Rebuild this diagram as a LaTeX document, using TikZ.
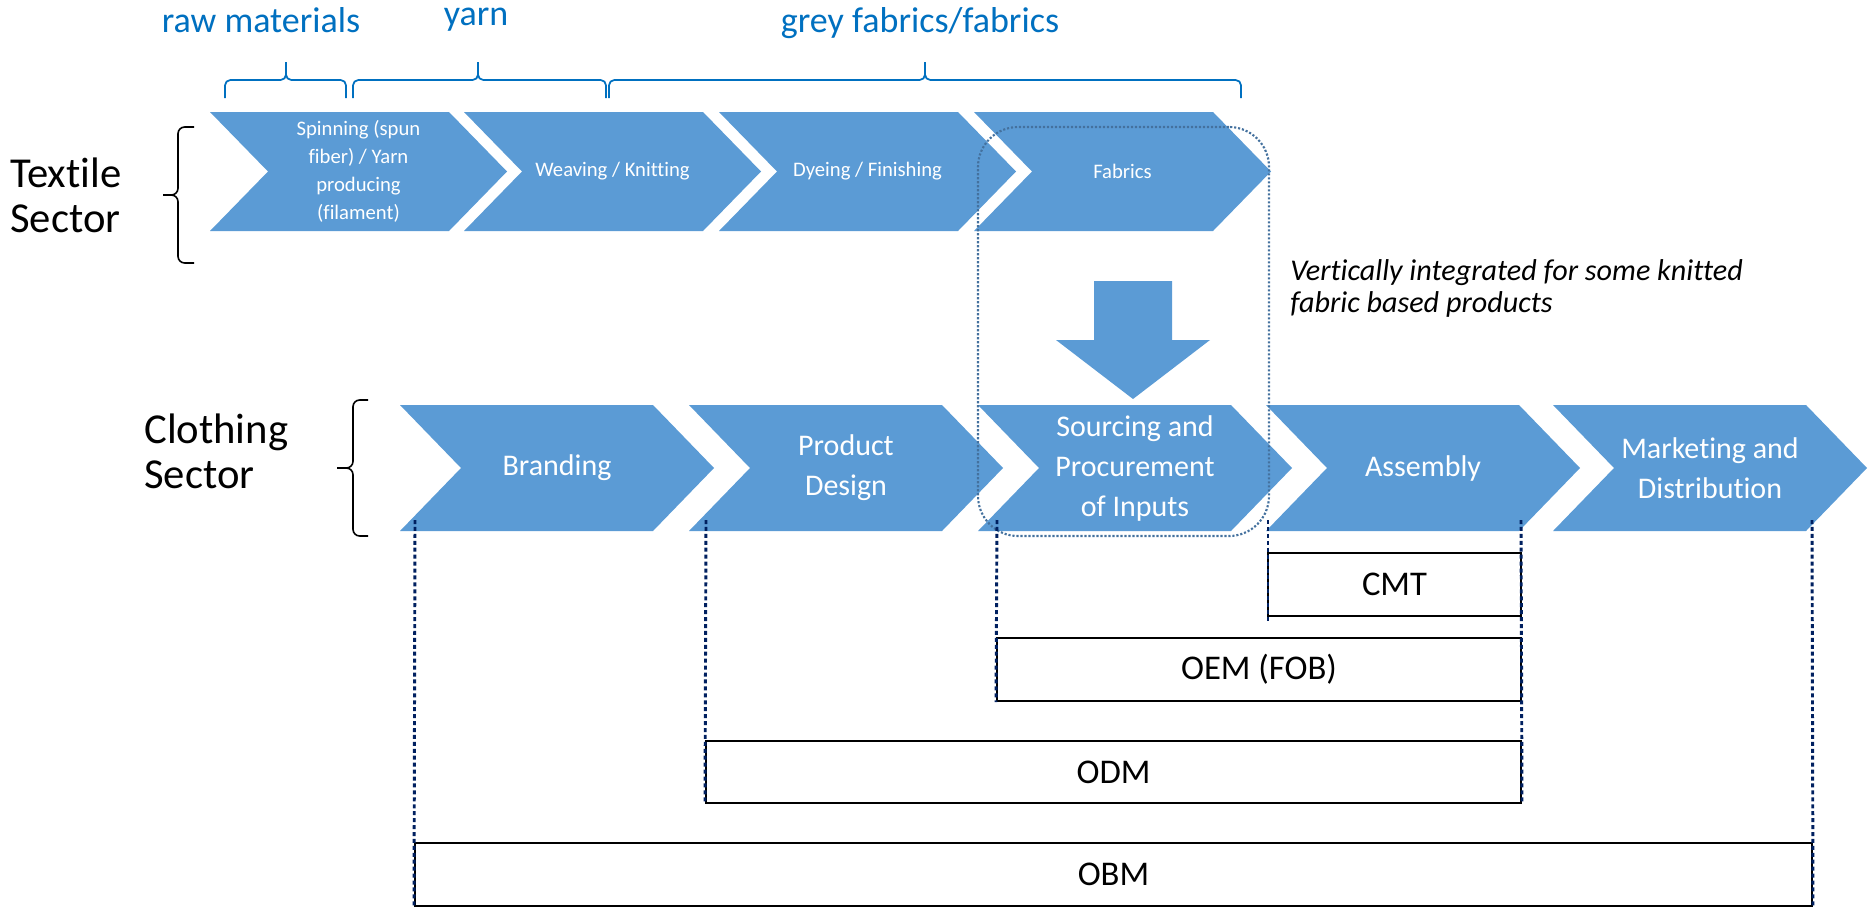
\documentclass[tikz,border=0pt]{standalone}
\usepackage{fontspec}
\setmainfont[Ligatures=NoCommon]{Carlito}
\usetikzlibrary{fit}
\definecolor{chevfill}{HTML}{5B9BD5}
\definecolor{stageblue}{HTML}{0070C0}
\definecolor{framecol}{HTML}{44719E}
\definecolor{guidenavy}{HTML}{002060}

% textile value-chain step: name, left edge, label
\newcommand\topstep[3]{%
  \fill[chevfill] (#2,112) -- ++(239,0) -- ++(58,59.5) -- ++(-58,59.5) -- ++(-239,0) -- ++(58,-59.5) -- cycle;
  \node[topstage] (#1) at ({#2+148.5},171.5) {#3};}
% clothing value-chain step: name, left edge, label
\newcommand\clothstep[3]{%
  \fill[chevfill] (#2,405) -- ++(253,0) -- ++(61,63) -- ++(-61,63) -- ++(-253,0) -- ++(61,-63) -- cycle;
  \node[clothstage] (#1) at ({#2+157},468) {#3};}

\begin{document}
\begin{tikzpicture}[x=0.75pt,y=-0.75pt,
  topstage/.style={text=white, font=\fontsize{15.5}{21}\selectfont, align=center, inner sep=0pt},
  clothstage/.style={text=white, font=\fontsize{22.5}{30}\selectfont, align=center, inner sep=0pt},
  stagelabel/.style={text=stageblue, font=\fontsize{27}{30}\selectfont, inner sep=0pt, anchor=base},
  stagebrace/.style={stageblue, line width=1.3pt, rounded corners=4pt},
  sectorlabel/.style={font=\fontsize{32}{36}\selectfont, inner sep=0pt, anchor=base west},
  sectorbrace/.style={black, line width=1.2pt, rounded corners=5pt},
  notelabel/.style={font=\fontsize{22.6}{26}\selectfont\itshape, inner sep=0pt, anchor=base west},
  modelbox/.style={draw=black, line width=1.5pt, inner sep=0pt},
  boxtext/.style={font=\fontsize{26}{30}\selectfont, inner sep=0pt},
  intframe/.style={draw=framecol, line width=1.6pt, dash pattern=on 1.6pt off 1.4pt, rounded corners=30pt, inner sep=0pt},
  guide/.style={guidenavy, line width=2.2pt, dash pattern=on 3pt off 2.2pt}]
\useasboundingbox (0,0) rectangle (1870,910);

% stage labels and braces above the textile chain
\node[stagelabel] (rawlab) at (261,32) {raw materials};
\node[stagelabel] (yarnlab) at (476,26) {yarn};
\node[stagelabel] (greylab) at (920,32) {grey fabrics/fabrics};
\draw[stagebrace] (225,98) -- (225,80) -- (286,80) -- (286,62);
\draw[stagebrace] (346,98) -- (346,80) -- (286,80) -- (286,62);
\draw[stagebrace] (353,98) -- (353,80) -- (478,80) -- (478,62);
\draw[stagebrace] (606,98) -- (606,80) -- (478,80) -- (478,62);
\draw[stagebrace] (609,98) -- (609,80) -- (925,80) -- (925,62);
\draw[stagebrace] (1241,98) -- (1241,80) -- (925,80) -- (925,62);

% textile sector
\node[sectorlabel] (textile1) at (10,187) {Textile};
\node[sectorlabel] (textile2) at (10,232) {Sector};
\draw[sectorbrace] (194,127) -- (178,127) -- (178,195) -- (163,195);
\draw[sectorbrace] (194,263) -- (178,263) -- (178,195) -- (163,195);
\topstep{spinning}{210}{Spinning (spun\\fiber) / Yarn\\producing\\(filament)}
\topstep{weaving}{464}{Weaving / Knitting}
\topstep{dyeing}{719}{Dyeing / Finishing}
\topstep{fabrics}{974}{Fabrics}

% fabrics feed into sourcing
\fill[chevfill] (1094,281) -- (1172,281) -- (1172,340) -- (1210,340) -- (1133,399) -- (1056,340) -- (1094,340) -- cycle;
\node[notelabel] (note1) at (1290,280) {Vertically integrated for some knitted};
\node[notelabel] (note2) at (1290,312) {fabric based products};

% clothing sector
\node[sectorlabel] (clothing1) at (144,443) {Clothing};
\node[sectorlabel] (clothing2) at (144,488) {Sector};
\draw[sectorbrace] (368,400) -- (353,400) -- (353,468) -- (337,468);
\draw[sectorbrace] (368,536) -- (353,536) -- (353,468) -- (337,468);
\clothstep{branding}{400}{Branding}
\clothstep{design}{689}{Product\\Design}
\clothstep{sourcing}{978}{Sourcing and\\Procurement\\of Inputs}
\clothstep{assembly}{1266}{Assembly}
\clothstep{marketing}{1553}{Marketing and\\Distribution}

% vertical integration frame
\node[intframe, fit={(978,127) (1269,536)}] (vertframe) {};

% business models
\node[modelbox, fit={(1268,553) (1521,616)}, label={[boxtext]center:CMT}] (cmt) {};
\node[modelbox, fit={(997,638) (1521,701)}, label={[boxtext]center:OEM (FOB)}] (oem) {};
\node[modelbox, fit={(706,741) (1521,803)}, label={[boxtext]center:ODM}] (odm) {};
\node[modelbox, fit={(415,843) (1812,906)}, label={[boxtext]center:OBM}] (obm) {};

% scope guides
\coordinate (gBranding) at (415,520);
\coordinate (gDesign) at (706,520);
\coordinate (gSourcing) at (997,520);
\coordinate (gAssembly) at (1268,520);
\coordinate (gAssemblyEnd) at (1521,520);
\coordinate (gMarketingEnd) at (1812,520);
\coordinate (gCmtLow) at (1268,622);
\draw[guide] (gBranding) -- (obm.south west);
\draw[guide] (gDesign) -- (odm.south west);
\draw[guide] (gSourcing) -- (oem.south west);
\draw[guide] (gAssembly) -- (gCmtLow);
\draw[guide] (gAssemblyEnd) -- (odm.south east);
\draw[guide] (gMarketingEnd) -- (obm.south east);
\end{tikzpicture}
\end{document}
